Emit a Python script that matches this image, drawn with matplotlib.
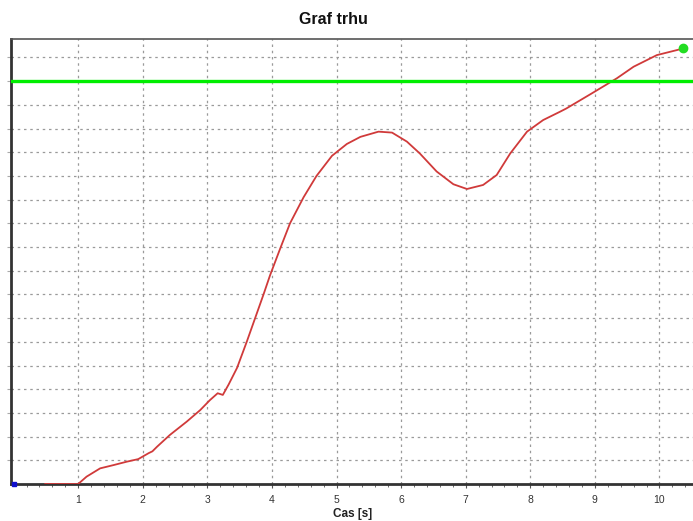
import numpy as np
import matplotlib.pyplot as plt

plt.rcParams['font.family'] = ['Liberation Sans', 'DejaVu Sans']

# cas [s] a hodnota (v jednotkach mrizky)
cas = [0.49, 1.0, 1.13, 1.34, 1.55, 1.75, 1.93, 2.09, 2.15, 2.22, 2.42, 2.68, 2.89,
       3.04, 3.16, 3.24, 3.33, 3.46, 3.61, 3.74, 3.87, 3.97, 4.13, 4.28, 4.49,
       4.69, 4.93, 5.16, 5.37, 5.65, 5.86, 6.09, 6.29, 6.55, 6.81, 7.02, 7.27,
       7.48, 7.69, 7.95, 8.2, 8.46, 8.56, 8.95, 9.34, 9.6, 9.96, 10.37]
hodnota = [0.0, 0.0, 0.31, 0.66, 0.80, 0.94, 1.05, 1.30, 1.38, 1.57, 2.07, 2.63, 3.12,
           3.54, 3.83, 3.76, 4.20, 4.90, 6.00, 7.00, 8.00, 8.80, 9.95, 11.0, 12.1,
           13.0, 13.85, 14.35, 14.65, 14.87, 14.83, 14.45, 13.95, 13.19, 12.65, 12.45, 12.62,
           13.04, 13.95, 14.87, 15.36, 15.71, 15.85, 16.48, 17.12, 17.61, 18.1, 18.38]
limit = 17
x_ticks = [1, 2, 3, 4, 5, 6, 7, 8, 9, 10]

fig = plt.figure(figsize=(6.93, 5.21), dpi=100)
ax = fig.add_axes([11 / 693, 1 - 484 / 521, 1 - 11 / 693, 445 / 521])

ax.plot(cas, hodnota, color='#d03a3a', lw=1.3, zorder=3, solid_joinstyle='round')
ax.axhline(limit, color='#00ee00', lw=2.4, zorder=4)
ax.plot(cas[-1], hodnota[-1], 'o', color='#22dd22', ms=6, zorder=5)
ax.plot(0, 0, 's', color='#1010cc', ms=3, zorder=5, clip_on=False)

ax.set_xlim(-0.04, 10.52)
ax.set_ylim(0, 18.78)
ax.set_xticks(x_ticks)
ax.set_xticks(np.arange(0.2, 10.5, 0.2), minor=True)
ax.set_yticks(range(1, 19))
ax.set_yticklabels([])
ax.tick_params(axis='x', labelsize=7.5, length=3, color='#555555', labelcolor='#333333', pad=5)
ax.tick_params(axis='x', which='minor', length=2, color='#555555')
ax.tick_params(axis='y', length=3, color='#aaaaaa')

ax.grid(True, which='major', color='#9a9a9a', lw=0.9, ls=(0, (2, 3)))

for s in ['left', 'bottom']:
    ax.spines[s].set_linewidth(2)
    ax.spines[s].set_color('#333333')
ax.spines['top'].set_color('#555555')
ax.spines['top'].set_linewidth(1.2)
ax.spines['right'].set_visible(False)

fig.text(333 / 693, 1 - 20 / 521, 'Graf trhu', ha='center', va='center',
         fontsize=11.5, fontweight='bold', color='#111111')
fig.text(353 / 693, 1 - 514 / 521, 'Cas [s]', ha='center', va='center',
         fontsize=8.5, fontweight='bold', color='#222222')

fig.savefig('out.png', dpi=100)
